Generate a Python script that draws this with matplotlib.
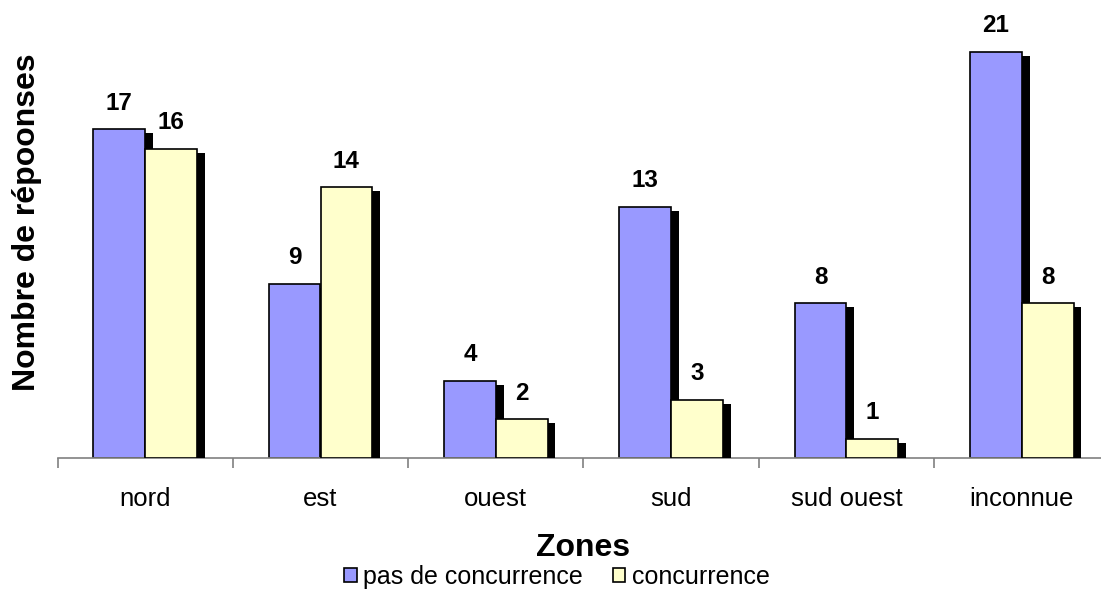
import matplotlib
matplotlib.use("Agg")
import matplotlib.pyplot as plt
from matplotlib.patches import Patch
import numpy as np

categories = ["nord", "est", "ouest", "sud", "sud ouest", "inconnue"]
pas_de_concurrence = [17, 9, 4, 13, 8, 21]
concurrence = [16, 14, 2, 3, 1, 8]
series_names = ["pas de concurrence", "concurrence"]

plt.rcParams['font.family'] = ['Liberation Sans', 'DejaVu Sans']

fig = plt.figure(figsize=(11.01, 5.90), dpi=100)
ax_left, ax_w = 57.5 / 1101, 1052 / 1101
ax = fig.add_axes([ax_left, 0.2237, ax_w, 0.7209])

x = np.arange(len(categories))
w = 0.295
colors = ["#9999FF", "#FFFFCC"]
sdx, sdy = 0.045, 0.2

for i, (vals, col) in enumerate(zip([pas_de_concurrence, concurrence], colors)):
    pos = x - w / 2 + i * w
    v = np.array(vals, dtype=float)
    ax.bar(pos + sdx, v - sdy, width=w, color="black", edgecolor="none", zorder=1 + i * 2)
    ax.bar(pos, v, width=w, color=col, edgecolor="black", linewidth=1.2, zorder=2 + i * 2)
    for p, val in zip(pos, vals):
        ax.annotate(str(val), (p, val), xytext=(0, 10.5), textcoords="offset points",
                    ha="center", va="bottom", fontsize=17.5, fontweight="bold")

ax.set_xlim(-0.5, len(categories) - 0.5)
ax.set_ylim(0, 22)
for s in ["top", "right", "left"]:
    ax.spines[s].set_visible(False)
ax.spines["bottom"].set_color("#808080")
ax.spines["bottom"].set_linewidth(1.2)
ax.set_yticks([])
ax.set_xticks(x)
ax.set_xticklabels(categories, fontsize=18.5)
ax.tick_params(axis="x", which="major", length=0, pad=21)
ax.set_xticks(np.arange(len(categories) + 1) - 0.5, minor=True)
ax.tick_params(axis="x", which="minor", length=7, color="#808080", width=1.2, direction="out")

ax.set_ylabel("Nombre de répoonses", fontsize=23, fontweight="bold")
ax.yaxis.set_label_coords((42 / 1101 - ax_left) / ax_w, 0.555)
fig.text(583 / 1101, 1 - 548 / 590, "Zones", ha="center", va="center", fontsize=23, fontweight="bold")

handles = [Patch(facecolor=c, edgecolor="black", linewidth=1.2) for c in colors]
fig.legend(handles, series_names, loc="center", bbox_to_anchor=(557 / 1101, 1 - 577 / 590),
           ncol=2, frameon=False, fontsize=18, handlelength=0.5, handleheight=0.5,
           handletextpad=0.25, columnspacing=1.2, borderpad=0)

fig.savefig("out.png", dpi=100)
